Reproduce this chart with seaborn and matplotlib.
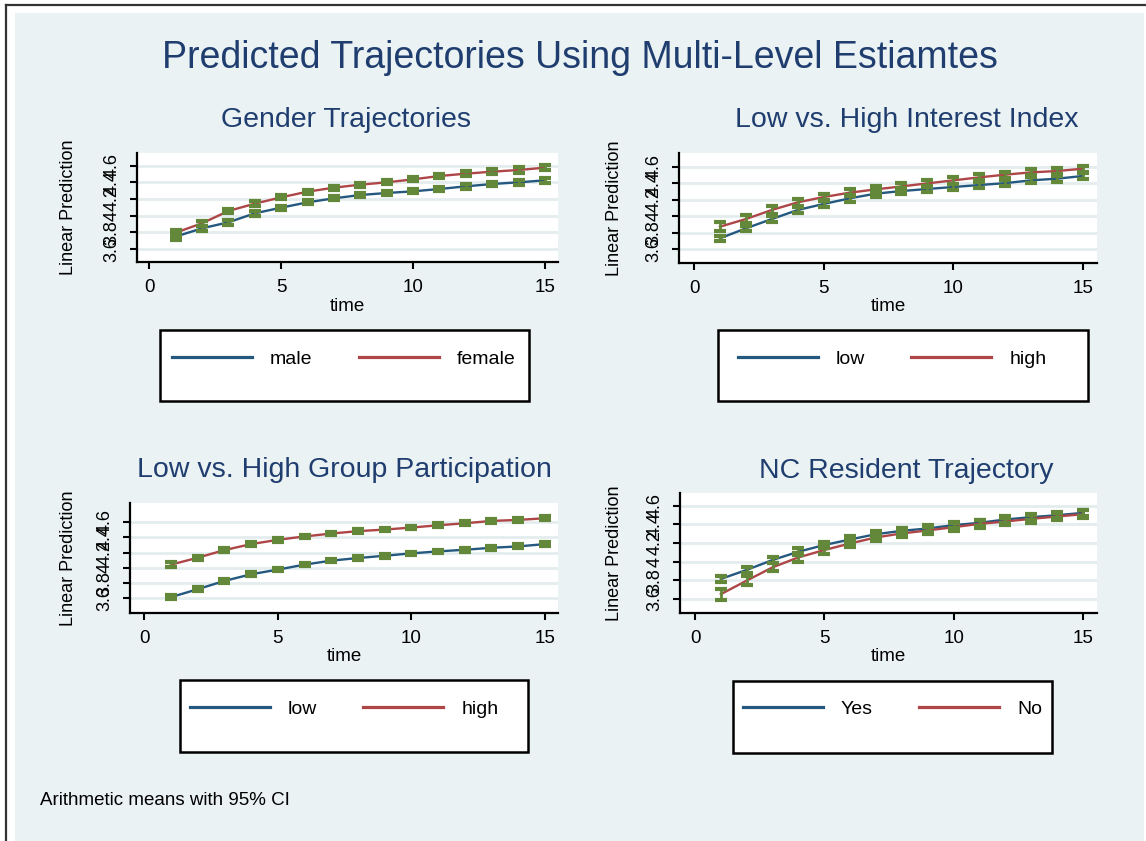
import matplotlib
matplotlib.use("Agg")
import matplotlib.pyplot as plt
import pandas as pd
import seaborn as sns
from matplotlib.patches import Rectangle
from matplotlib.lines import Line2D

# ---------------------------------------------------------------- data
time = list(range(1, 16))

gender_labels = ["male", "female"]
gender_male = [3.748, 3.848, 3.920, 4.028, 4.096, 4.160, 4.208, 4.248,
               4.272, 4.292, 4.320, 4.352, 4.380, 4.400, 4.424]
gender_female = [3.796, 3.908, 4.056, 4.144, 4.220, 4.288, 4.336, 4.372,
                 4.400, 4.436, 4.476, 4.504, 4.528, 4.548, 4.576]
gender_male_ci = [0.035, 0.030, 0.028, 0.026, 0.025, 0.025, 0.025, 0.025,
                  0.025, 0.025, 0.026, 0.027, 0.028, 0.030, 0.032]
gender_female_ci = [0.035, 0.030, 0.028, 0.026, 0.025, 0.025, 0.025, 0.025,
                    0.025, 0.026, 0.027, 0.028, 0.030, 0.031, 0.033]

interest_labels = ["low", "high"]
interest_low = [3.730, 3.851, 3.964, 4.074, 4.147, 4.215, 4.272, 4.304,
                4.329, 4.353, 4.377, 4.400, 4.434, 4.454, 4.487]
interest_high = [3.871, 3.964, 4.074, 4.167, 4.231, 4.284, 4.324, 4.360,
                 4.397, 4.434, 4.470, 4.503, 4.531, 4.547, 4.575]
interest_low_ci = [0.030, 0.030, 0.035, 0.040, 0.040, 0.040, 0.040, 0.040,
                   0.040, 0.040, 0.035, 0.035, 0.035, 0.035, 0.035]
interest_high_ci = [0.055, 0.045, 0.045, 0.040, 0.040, 0.040, 0.040, 0.040,
                    0.040, 0.040, 0.035, 0.035, 0.035, 0.035, 0.035]

group_labels = ["low", "high"]
group_low = [3.617, 3.721, 3.829, 3.916, 3.977, 4.042, 4.094, 4.128,
             4.158, 4.189, 4.215, 4.236, 4.262, 4.280, 4.310]
group_high = [4.042, 4.132, 4.232, 4.310, 4.366, 4.410, 4.448, 4.479,
              4.500, 4.526, 4.556, 4.582, 4.613, 4.626, 4.648]
group_low_ci = [0.025, 0.024, 0.024, 0.024, 0.024, 0.024, 0.024, 0.024,
                0.024, 0.024, 0.024, 0.024, 0.025, 0.025, 0.026]
group_high_ci = [0.028, 0.025, 0.024, 0.024, 0.024, 0.024, 0.024, 0.024,
                 0.024, 0.024, 0.024, 0.024, 0.025, 0.025, 0.026]

nc_labels = ["Yes", "No"]
nc_yes = [3.814, 3.911, 4.018, 4.107, 4.179, 4.239, 4.296, 4.332,
          4.357, 4.393, 4.418, 4.454, 4.479, 4.500, 4.525]
nc_no = [3.650, 3.796, 3.939, 4.046, 4.125, 4.196, 4.261, 4.304,
         4.336, 4.371, 4.407, 4.432, 4.461, 4.486, 4.511]
nc_yes_ci = [0.030, 0.030, 0.035, 0.035, 0.035, 0.035, 0.035, 0.035,
             0.035, 0.035, 0.035, 0.035, 0.035, 0.035, 0.035]
nc_no_ci = [0.060, 0.050, 0.045, 0.045, 0.040, 0.040, 0.040, 0.040,
            0.040, 0.040, 0.040, 0.040, 0.040, 0.040, 0.040]

x_ticks = [0, 5, 10, 15]
y_ticks = [3.6, 3.8, 4.0, 4.2, 4.4, 4.6]
y_tick_labels = ["3.6", "3.8", "4", "4.2", "4.4", "4.6"]

main_title = "Predicted Trajectories Using Multi-Level Estiamtes"
note_text = "Arithmetic means with 95% CI"

# ---------------------------------------------------------------- style
W, H = 1146, 841
BG = "#EAF2F3"
GRID = "#E3EDEE"
NAVY = "#1F3D6F"
BLUE = "#25587F"
RED = "#AE4648"
GREEN = "#64883A"

plt.rcParams["font.family"] = ["Liberation Sans", "DejaVu Sans"]


def fig_rect(x0, y0, x1, y1):
    """Pixel box (top-left origin) -> figure fraction rectangle."""
    return [x0 / W, 1 - y1 / H, (x1 - x0) / W, (y1 - y0) / H]


fig = plt.figure(figsize=(W / 100, H / 100), dpi=100, facecolor="white")

# outer frame and graph region
fig.add_artist(Rectangle((15 / W, 0), (1144 - 15) / W, (H - 13) / H,
                         transform=fig.transFigure, facecolor=BG,
                         edgecolor="none", zorder=0))
fig.add_artist(Line2D([6 / W, 1], [1 - 5 / H, 1 - 5 / H],
                      transform=fig.transFigure, color="#333333", lw=1.6))
fig.add_artist(Line2D([6 / W, 6 / W], [0, 1 - 5 / H],
                      transform=fig.transFigure, color="#333333", lw=1.6))

panels = [
    dict(title="Gender Trajectories", title_xy=(346, 127),
         labels=gender_labels, values=(gender_male, gender_female),
         cis=(gender_male_ci, gender_female_ci),
         box=(137, 153, 558, 262), xlim=(-0.46, 15.49), ylim=(3.444, 4.752),
         xlabel_top=298, ylabel_right=77,
         legend_box=(160, 330, 529, 401), legend_anchor=(172, 359)),
    dict(title="Low vs. High Interest Index", title_xy=(907, 127),
         labels=interest_labels, values=(interest_low, interest_high),
         cis=(interest_low_ci, interest_high_ci),
         box=(679, 153, 1097, 263), xlim=(-0.58, 15.54), ylim=(3.43, 4.766),
         xlabel_top=298, ylabel_right=623,
         legend_box=(718, 330, 1088, 401), legend_anchor=(738, 359)),
    dict(title="Low vs. High Group Participation", title_xy=(344, 477),
         labels=group_labels, values=(group_low, group_high),
         cis=(group_low_ci, group_high_ci),
         box=(130, 503, 558, 613), xlim=(-0.535, 15.49), ylim=(3.41, 4.847),
         xlabel_top=648, ylabel_right=77,
         legend_box=(180, 680, 528, 752), legend_anchor=(190, 709)),
    dict(title="NC Resident Trajectory", title_xy=(906, 478),
         labels=nc_labels, values=(nc_yes, nc_no),
         cis=(nc_yes_ci, nc_no_ci),
         box=(680, 493, 1097, 613), xlim=(-0.58, 15.54), ylim=(3.447, 4.739),
         xlabel_top=648, ylabel_right=623,
         legend_box=(733, 681, 1052, 753), legend_anchor=(743, 709)),
]

for p in panels:
    x0, y0, x1, y1 = p["box"]
    aw, ah = x1 - x0, y1 - y0
    ax = fig.add_axes(fig_rect(x0, y0, x1, y1))
    ax.set_facecolor("white")

    frames = []
    for lab, vals in zip(p["labels"], p["values"]):
        frames.append(pd.DataFrame({"time": time, "pred": vals, "group": lab}))
    df = pd.concat(frames, ignore_index=True)

    sns.lineplot(data=df, x="time", y="pred", hue="group",
                 hue_order=p["labels"], palette=[BLUE, RED],
                 linewidth=1.7, ax=ax, zorder=2)
    handles, labels = ax.get_legend_handles_labels()
    ax.get_legend().remove()

    # 95% confidence intervals around each prediction
    for vals, ci in zip(p["values"], p["cis"]):
        ax.errorbar(time, vals, yerr=ci, fmt="none", ecolor=GREEN,
                    elinewidth=2.0, capsize=4.3, capthick=3.0, zorder=3)

    ax.set_xlim(*p["xlim"])
    ax.set_ylim(*p["ylim"])
    ax.set_xticks(x_ticks)
    ax.set_yticks(y_ticks)
    ax.set_yticklabels(y_tick_labels)
    ax.grid(axis="y", color=GRID, linewidth=2.0, zorder=0)
    ax.grid(axis="x", visible=False)
    ax.set_axisbelow(True)
    for side in ("top", "right"):
        ax.spines[side].set_visible(False)
    for side in ("left", "bottom"):
        ax.spines[side].set_color("black")
        ax.spines[side].set_linewidth(1.6)
    ax.tick_params(axis="both", direction="out", length=5, width=1.5,
                   colors="black", labelsize=13.5, pad=7)
    ax.tick_params(axis="y", labelrotation=90, labelsize=13)
    for t in ax.get_yticklabels():
        t.set_va("center")

    ax.set_xlabel("time", fontsize=13.5)
    ax.set_ylabel("Linear Prediction", fontsize=13)
    ax.xaxis.set_label_coords(0.5, -(p["xlabel_top"] - y1) / ah)
    ax.yaxis.set_label_coords(-(x0 - p["ylabel_right"]) / aw, 0.5)

    # panel title
    fig.text(p["title_xy"][0] / W, 1 - p["title_xy"][1] / H, p["title"],
             ha="center", va="baseline", fontsize=20.5, color=NAVY)

    # legend box and entries
    lx0, ly0, lx1, ly1 = p["legend_box"]
    fig.add_artist(Rectangle((lx0 / W, 1 - ly1 / H), (lx1 - lx0) / W,
                             (ly1 - ly0) / H, transform=fig.transFigure,
                             facecolor="white", edgecolor="black", lw=1.8,
                             zorder=1))
    for h in handles:
        h.set_linewidth(2.3)
    fs = 14
    em = fs * 100 / 72
    leg = fig.legend(handles, labels, ncol=2, frameon=False, fontsize=fs,
                     loc="center left",
                     bbox_to_anchor=(p["legend_anchor"][0] / W,
                                     1 - p["legend_anchor"][1] / H),
                     borderpad=0, borderaxespad=0,
                     handlelength=80 / em, handletextpad=18 / em,
                     columnspacing=46 / em)
    leg.set_zorder(2)

fig.text(580 / W, 1 - 68 / H, main_title, ha="center", va="baseline",
         fontsize=27, color=NAVY)
fig.text(40 / W, 1 - 805 / H, note_text, ha="left", va="baseline",
         fontsize=13.5, color="black")

fig.savefig("out.png", dpi=100, facecolor="white")
